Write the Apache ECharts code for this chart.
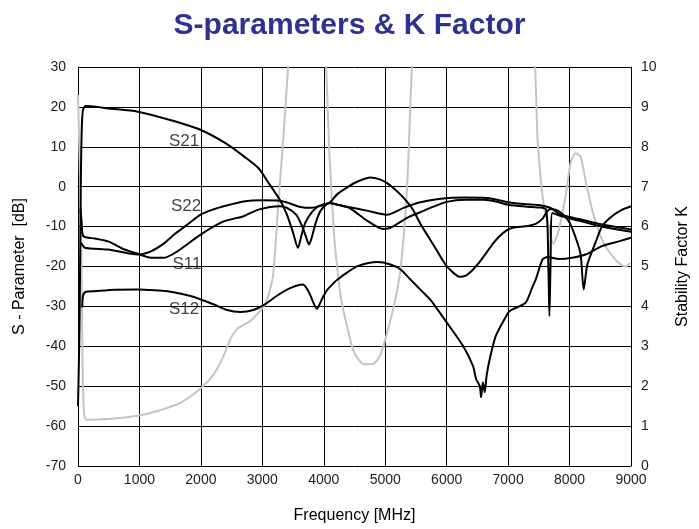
<!DOCTYPE html>
<html><head><meta charset="utf-8">
<script src="https://cdn.jsdelivr.net/npm/echarts/dist/echarts.min.js"></script>
<style>html,body{margin:0;padding:0;background:#fff;overflow:hidden}#c{width:699px;height:529px}</style>
</head><body><div id="c"></div>
<script>
const titleText = "S-parameters & K Factor";
const xName = "Frequency [MHz]";
const yLeftName = "S - Parameter  [dB]";
const yRightName = "Stability Factor K";

const s21 = [[0,-55],[25,-35],[45,0],[60,14],[80,19.2],[120,20.2],[170,20.2],[500,19.6],[973,18.8],[1500,16.7],[2000,14.2],[2400,10.9],[2700,7.6],[2935,4.7],[3100,1],[3285,-3.3],[3400,-7],[3500,-11.5],[3580,-15.3],[3640,-12],[3700,-9],[3800,-6.5],[3900,-5],[4000,-4.4],[4090,-4.1],[4225,-1.8],[4400,0],[4550,1.3],[4760,2.3],[4900,1.9],[5030,0.9],[5170,-0.8],[5300,-2.8],[5440,-5.5],[5570,-9.2],[5700,-12.5],[5840,-16],[5980,-19.5],[6110,-21.6],[6215,-22.6],[6320,-22.2],[6430,-20.75],[6540,-18.8],[6645,-16.6],[6750,-14.3],[6860,-12.4],[6970,-11],[7075,-10.3],[7290,-9.9],[7450,-9.3],[7560,-8],[7630,-6.3],[7700,-5.6],[7830,-6.2],[7990,-8.7],[8100,-12.8],[8180,-17],[8230,-25.75],[8290,-19.5],[8420,-14.1],[8530,-9.9],[8690,-7.4],[8850,-5.8],[9000,-4.9]];

const s22 = [[50,-14],[113,-15.3],[489,-15.75],[973,-17],[1188,-16.2],[1400,-14.2],[1565,-12],[1780,-9.5],[1995,-7],[2200,-5.7],[2371,-4.9],[2694,-3.7],[3000,-3.4],[3285,-3.5],[3450,-4.2],[3600,-5],[3800,-5.3],[3950,-4.8],[4090,-4.1],[4250,-4.6],[4400,-5.1],[4700,-6],[5030,-7],[5300,-5.3],[5570,-3.9],[5900,-3],[6300,-2.7],[6600,-2.8],[6800,-3.2],[7000,-3.9],[7300,-4.4],[7500,-4.6],[7700,-5.4],[7830,-6.8],[8150,-8.1],[8470,-9.3],[8800,-10.2],[9000,-10.7]];

const s11 = [[40,-5.5],[60,-9],[86,-12.4],[274,-13],[489,-13.7],[758,-15.75],[973,-16.8],[1188,-17.8],[1403,-17.8],[1618,-16.2],[1995,-12],[2371,-8.7],[2694,-7.4],[2935,-5.75],[3285,-4.9],[3400,-5.3],[3550,-7],[3650,-10],[3720,-13],[3760,-14.5],[3800,-13],[3870,-9],[3950,-6],[4090,-4.1],[4250,-4.6],[4415,-5.3],[4680,-8.25],[4900,-10.3],[4990,-10.6],[5100,-10.2],[5355,-7.8],[5570,-6.4],[5785,-5],[6000,-3.8],[6300,-3.3],[6600,-3.3],[6800,-3.7],[7000,-4.5],[7300,-5],[7500,-5.2],[7620,-5.8],[7655,-20],[7672,-32.4],[7690,-20],[7720,-6.6],[7830,-7.2],[8150,-8.5],[8470,-9.8],[8800,-10.8],[9000,-11.3]];

const s12 = [[70,-30.3],[80,-27.5],[120,-26.4],[274,-26.2],[600,-25.8],[973,-25.75],[1300,-26],[1457,-26.2],[1833,-27.4],[2210,-29.5],[2425,-30.9],[2640,-31.4],[2855,-30.9],[3043,-29.5],[3250,-27.2],[3473,-25.3],[3661,-24.5],[3760,-26.5],[3890,-30.6],[3960,-28.5],[4050,-26],[4170,-24],[4225,-23.25],[4400,-21.3],[4550,-19.9],[4870,-18.9],[5085,-19.5],[5250,-20.75],[5410,-23.25],[5570,-25.75],[5730,-28.25],[5850,-30.75],[6000,-34],[6270,-40],[6430,-45],[6480,-48.25],[6540,-50],[6560,-52.8],[6590,-49],[6620,-51.5],[6650,-47.4],[6700,-43.25],[6800,-37.4],[6970,-32.4],[7020,-31.2],[7180,-30],[7290,-29],[7400,-25],[7450,-23.25],[7560,-18.25],[7640,-17.6],[7830,-18.1],[8040,-17.8],[8260,-17],[8527,-14.9],[8800,-13.7],[9000,-12.8]];

const kFactor = [[0,9.3],[50,6],[75,2.5],[100,1.3],[140,1.16],[490,1.18],[973,1.26],[1295,1.38],[1672,1.59],[1995,1.94],[2210,2.3],[2370,2.76],[2480,3.18],[2585,3.43],[2800,3.63],[2960,3.88],[3043,4.05],[3120,4.4],[3177,4.8],[3258,6.5],[3340,8.2],[3420,10],[3550,12.5],[3750,13],[3930,12],[4037,10],[4092,7.8],[4172,5.7],[4225,4.9],[4280,4.2],[4390,3.43],[4495,2.84],[4656,2.55],[4790,2.55],[4925,2.8],[5030,3.34],[5140,4.0],[5247,4.9],[5355,6.97],[5435,10],[5600,14],[6500,20],[7300,14],[7440,10],[7479,8.2],[7532,7.18],[7585,6.5],[7666,5.97],[7735,5.57],[7827,5.93],[7935,6.76],[8016,7.59],[8097,7.84],[8177,7.76],[8258,7.18],[8366,6.43],[8527,5.68],[8742,5.18],[8903,5.0],[8989,5.09]];

const curveLabels = ["S21","S22","S11","S12"];
const labelPos = [[1726,11.5],[1758,-5],[1774,-19.5],[1726,-30.75]];

const chart = echarts.init(document.getElementById('c'), null, {renderer:'canvas', width:699, height:529});
const blackLine = (name, data) => ({
  name, type:'line', data, yAxisIndex:0, showSymbol:false, symbol:'none',
  smooth:0.25,
  lineStyle:{color:'#000', width:2}, silent:true, z:3
});
const tickFont = {color:'#222', fontFamily:'Liberation Sans, Arial', fontSize:14};
chart.setOption({
  animation:false,
  backgroundColor:'#fff',
  title:{text:titleText, left:'center', top:6,
    textStyle:{fontFamily:'Liberation Sans, Arial', fontSize:30, fontWeight:'bold', color:'#2e3192'}},
  grid:{left:78, right:63, top:67, bottom:62},
  xAxis:{type:'value', min:0, max:9000, interval:1000,
    name:xName, nameLocation:'middle', nameGap:42,
    nameTextStyle:{fontFamily:'Liberation Sans, Arial', fontSize:16, color:'#000'},
    axisLine:{lineStyle:{color:'#000', width:1}}, axisTick:{show:false},
    axisLabel:Object.assign({margin:7, formatter:v=>String(v)}, tickFont),
    splitLine:{show:true, lineStyle:{color:'#000', width:1}}},
  yAxis:[
    {type:'value', min:-70, max:30, interval:10, position:'left',
     name:yLeftName, nameLocation:'middle', nameGap:50, nameRotate:90,
     nameTextStyle:{fontFamily:'Liberation Sans, Arial', fontSize:16, color:'#000'},
     axisLine:{show:true, lineStyle:{color:'#000', width:1}}, axisTick:{show:false},
     axisLabel:Object.assign({margin:12}, tickFont),
     splitLine:{show:true, lineStyle:{color:'#000', width:1}}},
    {type:'value', min:0, max:10, interval:1, position:'right',
     name:yRightName, nameLocation:'middle', nameGap:44, nameRotate:90,
     nameTextStyle:{fontFamily:'Liberation Sans, Arial', fontSize:16, color:'#000'},
     axisLine:{show:true, lineStyle:{color:'#000', width:1}}, axisTick:{show:false},
     axisLabel:Object.assign({margin:10}, tickFont),
     splitLine:{show:false}}
  ],
  series:[
    {name:'K', type:'line', data:kFactor, yAxisIndex:1, showSymbol:false, symbol:'none',
     smooth:0.25, clip:true,
     lineStyle:{color:'#c4c4c4', width:2}, silent:true, z:2},
    blackLine('S21', s21),
    blackLine('S22', s22),
    blackLine('S11', s11),
    blackLine('S12', s12),
    {name:'labels', type:'scatter', yAxisIndex:0, symbolSize:0, silent:true, z:5,
     data:labelPos.map((p,i)=>({value:p, name:curveLabels[i]})),
     label:{show:true, position:'inside', formatter:p=>p.name,
       fontFamily:'Liberation Sans, Arial', fontSize:17, color:'#111'}}
  ]
});
</script></body></html>
